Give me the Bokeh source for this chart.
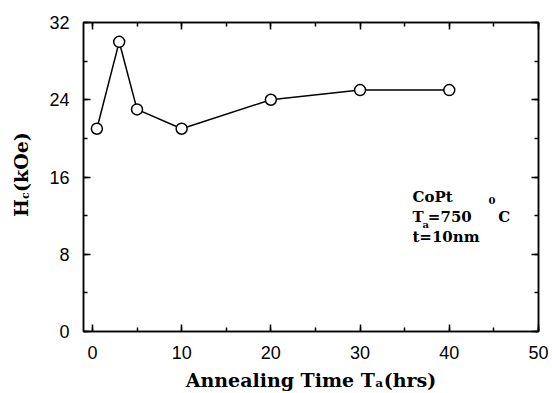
import math
from bokeh.plotting import figure
from bokeh.layouts import row
from bokeh.models import LinearAxis, SingleIntervalTicker, Label, Range1d, CustomJSTickFormatter
from bokeh.embed import file_html
from bokeh.resources import INLINE

# data
anneal_time = [0.5, 3, 5, 10, 20, 30, 40]
hc_koe = [21, 30, 23, 21, 24, 25, 25]

x_ticks_interval = 10
y_ticks_interval = 8

TICK_FONT = "Liberation Sans"
LBL_FONT = "DejaVu Serif"

# ---- main plot ----
p = figure(width=512, height=393, output_backend="svg", toolbar_location=None,
           x_range=Range1d(-1, 50), y_range=Range1d(0, 32),
           min_border_left=43, min_border_right=14, min_border_top=22, min_border_bottom=61)
p.xgrid.visible = False
p.ygrid.visible = False
p.outline_line_color = "black"
p.outline_line_width = 1.5
p.background_fill_color = "white"
p.border_fill_color = "white"


def style_axis(ax, show_labels=True):
    ax.axis_line_width = 1.5
    ax.axis_line_color = "black"
    ax.major_tick_in = 7
    ax.major_tick_out = 0
    ax.minor_tick_in = 4
    ax.minor_tick_out = 0
    ax.major_tick_line_width = 1.5
    ax.minor_tick_line_width = 1.5
    ax.major_tick_line_color = "black"
    ax.minor_tick_line_color = "black"
    if show_labels:
        ax.major_label_text_font = TICK_FONT
        ax.major_label_text_font_size = "18px"
        ax.major_label_text_color = "black"
        ax.major_label_standoff = 14
    else:
        ax.formatter = CustomJSTickFormatter(code="return ''")
        ax.major_label_text_font_size = "10px"
        ax.major_label_standoff = 0


p.xaxis.ticker = SingleIntervalTicker(interval=x_ticks_interval, num_minor_ticks=2)
p.yaxis.ticker = SingleIntervalTicker(interval=y_ticks_interval, num_minor_ticks=2)
style_axis(p.xaxis[0])
style_axis(p.yaxis[0])

p.xaxis.axis_label = "Annealing Time T\u2090(hrs)"
p.xaxis.axis_label_text_font = LBL_FONT
p.xaxis.axis_label_text_font_style = "bold"
p.xaxis.axis_label_text_font_size = "19px"
p.xaxis.axis_label_text_color = "black"
p.xaxis.axis_label_standoff = 7

top_ax = LinearAxis(ticker=SingleIntervalTicker(interval=x_ticks_interval, num_minor_ticks=2))
right_ax = LinearAxis(ticker=SingleIntervalTicker(interval=y_ticks_interval, num_minor_ticks=2))
style_axis(top_ax, False)
style_axis(right_ax, False)
p.add_layout(top_ax, "above")
p.add_layout(right_ax, "right")

p.line(anneal_time, hc_koe, line_color="black", line_width=1.5)
p.scatter(anneal_time, hc_koe, marker="circle", size=11, fill_color="white",
          line_color="black", line_width=1.5)


def lab(fig, x, y, text, size, **kw):
    opts = dict(x=x, y=y, text=text, text_font=LBL_FONT, text_font_style="bold",
                text_font_size=size, text_color="black", text_baseline="alphabetic")
    opts.update(kw)
    fig.add_layout(Label(**opts))


# annotation inside the plot
lab(p, 35.87, 13.94, "CoPt", "15px")
lab(p, 35.87, 11.87, "T", "15px")
lab(p, 37.0, 11.1, "a", "10px")
lab(p, 37.6, 11.87, "=750", "15px")
lab(p, 44.4, 13.6, "0", "10px")
lab(p, 45.5, 11.87, "C", "15px")
lab(p, 35.87, 9.81, "t=10nm", "15px")

# ---- y axis title strip: H_c(kOe) (its frame is aligned with the main frame) ----
ylab = figure(width=40, height=393, output_backend="svg", toolbar_location=None,
              x_range=Range1d(0, 40), y_range=Range1d(0, 32),
              x_axis_type=None, y_axis_type=None,
              min_border_left=0, min_border_right=0, min_border_top=22, min_border_bottom=61)
ylab.xgrid.visible = False
ylab.ygrid.visible = False
ylab.outline_line_color = None
ylab.background_fill_color = "white"
ylab.border_fill_color = "white"

ang = math.pi / 2
lab(ylab, 20, 11.87, "H", "19px", text_align="left", angle=ang)
lab(ylab, 25, 13.73, "c", "11px", text_align="left", angle=ang)
lab(ylab, 20, 14.45, "(kOe)", "19px", text_align="left", angle=ang)

layout = row(ylab, p, spacing=0)

open("out.html", "w").write(file_html(layout, INLINE))
